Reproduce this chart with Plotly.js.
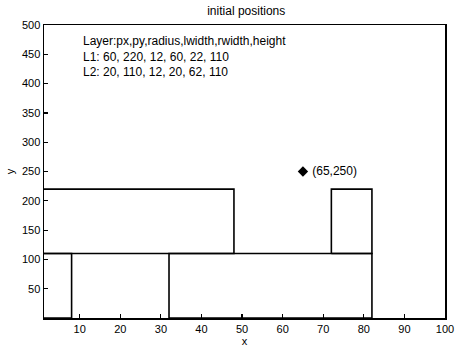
<!DOCTYPE html>
<html><head><meta charset="utf-8">
<script src="https://cdn.plot.ly/plotly-3.0.1.min.js"></script>
<style>html,body{margin:0;padding:0;background:#fff}#c{width:456px;height:352px}</style>
</head><body><div id="c"></div>
<script>
const layerNames = ["L1", "L2"];
const px = [60, 20];
const py = [220, 110];
const radius = [12, 12];
const lwidth = [60, 20];
const rwidth = [22, 62];
const height = [110, 110];
const pointX = [65];
const pointY = [250];
const xTicks = [10, 20, 30, 40, 50, 60, 70, 80, 90, 100];
const yTicks = [50, 100, 150, 200, 250, 300, 350, 400, 450, 500];

const FONT = 'Liberation Sans, Arial, sans-serif';
const traces = [];
for (let i = 0; i < layerNames.length; i++) {
  const top = py[i], bot = py[i] - height[i];
  const parts = [[px[i] - lwidth[i], px[i] - radius[i]], [px[i] + radius[i], px[i] + rwidth[i]]];
  parts.forEach(p => {
    traces.push({
      type: 'scatter', mode: 'lines',
      x: [p[0], p[1], p[1], p[0], p[0]],
      y: [bot, bot, top, top, bot],
      line: {color: '#000', width: 1.6},
      hoverinfo: 'skip', showlegend: false
    });
  });
}
traces.push({
  type: 'scatter', mode: 'markers+text',
  x: pointX, y: pointY,
  text: pointX.map((v, k) => ' (' + v + ',' + pointY[k] + ')'),
  textposition: 'middle right',
  textfont: {family: FONT, size: 12, color: '#000'},
  marker: {symbol: 'diamond', size: 8, color: '#000'},
  showlegend: false, cliponaxis: false
});

const info = 'Layer:px,py,radius,lwidth,rwidth,height<br>' +
  layerNames.map((n, i) => n + ': ' + [px[i], py[i], radius[i], lwidth[i], rwidth[i], height[i]].join(', ')).join('<br>');

const axisCommon = {
  showgrid: false, zeroline: false, showline: true, mirror: true,
  linecolor: '#000', linewidth: 1.5, ticks: 'inside', ticklen: 4, tickwidth: 1.2,
  tickcolor: '#000', tickfont: {family: FONT, size: 11, color: '#000'}
};

const layout = {
  width: 456, height: 352,
  margin: {l: 44, r: 11, t: 25, b: 34},
  paper_bgcolor: '#fff', plot_bgcolor: '#fff',
  title: {text: 'initial positions', x: 0.54, xanchor: 'center', y: 0.98, yanchor: 'top',
          font: {family: FONT, size: 12, color: '#000'}},
  xaxis: Object.assign({}, axisCommon, {range: [1.2, 100], tickvals: xTicks,
          title: {text: 'x', standoff: 3, font: {family: FONT, size: 11, color: '#000'}}}),
  yaxis: Object.assign({}, axisCommon, {range: [0, 500], tickvals: yTicks,
          title: {text: 'y', standoff: 5, font: {family: FONT, size: 11, color: '#000'}}}),
  annotations: [{
    xref: 'paper', yref: 'paper', x: 0.092, y: 0.975, xanchor: 'left', yanchor: 'top',
    text: info, showarrow: false, align: 'left',
    font: {family: FONT, size: 12, color: '#000'}
  }]
};
Plotly.newPlot('c', traces, layout, {staticPlot: true, displayModeBar: false});
</script></body></html>
